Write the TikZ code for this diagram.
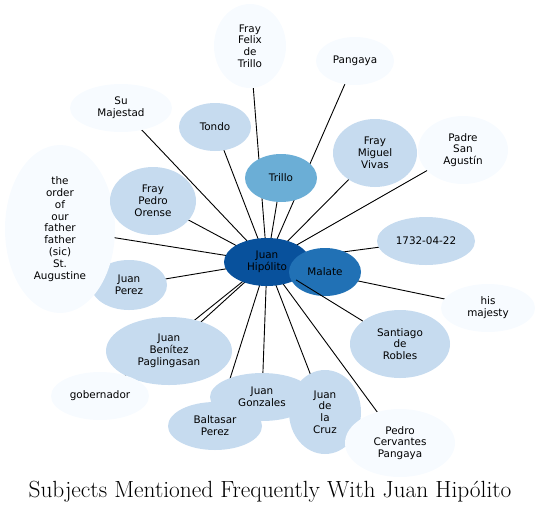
\documentclass[tikz,border=0pt]{standalone}
\usepackage{fontspec}
\newfontfamily\nodefont{DejaVu Sans}
\usetikzlibrary{shapes.geometric}
\pgfdeclarelayer{bg}
\pgfsetlayers{bg,main}
\definecolor{cA}{HTML}{08519C}
\definecolor{cB}{HTML}{2171B5}
\definecolor{cC}{HTML}{6BAED6}
\definecolor{cD}{HTML}{C6DBEF}
\definecolor{cE}{HTML}{F7FBFF}
\tikzset{
  bub/.style={ellipse, inner sep=0pt, align=center, text=black,
    font=\nodefont\fontsize{10.4}{11.8}\selectfont},
  edge/.style={draw=black, line width=0.9pt},
}
\newcommand{\bubble}[7]{% name, x, y, rx, ry, colour, text
  \node[bub, fill=#6, minimum width=#4*2pt, minimum height=#5*2pt] (#1) at (#2,#3) {#7};}
\begin{document}
\begin{tikzpicture}[x=1pt,y=-1pt]
\useasboundingbox (0,0) rectangle (540,512);
% nodes
\bubble{felix}{250}{46}{36}{42}{cE}{Fray\\Felix\\de\\Trillo}
\bubble{pangaya}{355}{61}{39}{24}{cE}{Pangaya}
\bubble{sumaj}{121}{108}{51}{24}{cE}{Su\\Majestad}
\bubble{tondo}{215}{127}{36}{24}{cD}{Tondo}
\bubble{vivas}{375}{153}{42}{34}{cD}{Fray\\Miguel\\Vivas}
\bubble{agustin}{463}{150}{45}{34}{cE}{Padre\\San\\Agust\'in}
\bubble{trillo}{281}{178}{36}{24}{cC}{Trillo}
\bubble{perez}{129}{285}{38}{25}{cD}{Juan\\Perez}
\bubble{order}{60}{229}{55}{84}{cE}{the\\order\\of\\our\\father\\father\\(sic)\\St.\\Augustine}
\bubble{orense}{153}{201}{43}{34}{cD}{Fray\\Pedro\\Orense}
\bubble{date}{426}{241}{49}{24}{cD}{1732-04-22}
\bubble{hismaj}{488}{308}{47}{24}{cE}{his\\majesty}
\bubble{robles}{400}{344}{50}{34}{cD}{Santiago\\de\\Robles}
\bubble{benitez}{169}{351}{63}{34}{cD}{Juan\\Ben\'itez\\Paglingasan}
\bubble{gober}{100}{396}{49}{24}{cE}{gobernador}
\bubble{gonz}{262}{397}{52}{24}{cD}{Juan\\Gonzales}
\bubble{baltasar}{215}{426}{47}{24}{cD}{Baltasar\\Perez}
\bubble{cruz}{325}{412}{36}{42}{cD}{Juan\\de\\la\\Cruz}
\bubble{cervantes}{400}{443}{55}{34}{cE}{Pedro\\Cervantes\\Pangaya}
\bubble{hip}{267}{262}{43}{24}{cA}{Juan\\Hip\'olito}
\bubble{malate}{325}{272}{36}{24}{cB}{Malate}
% edges
\begin{pgfonlayer}{bg}
\foreach \t in {felix,pangaya,sumaj,tondo,vivas,agustin,trillo,perez,order,orense,date,hismaj,benitez,gober,gonz,baltasar,cruz,cervantes}
  \draw[edge] (hip.center) -- (\t.center);
\end{pgfonlayer}
\draw[edge] (hip) -- (robles);
% title
\node[font=\fontsize{23.4}{27}\selectfont, anchor=base] (title) at (270,497) {Subjects Mentioned Frequently With Juan Hip\'olito};
\end{tikzpicture}
\end{document}
